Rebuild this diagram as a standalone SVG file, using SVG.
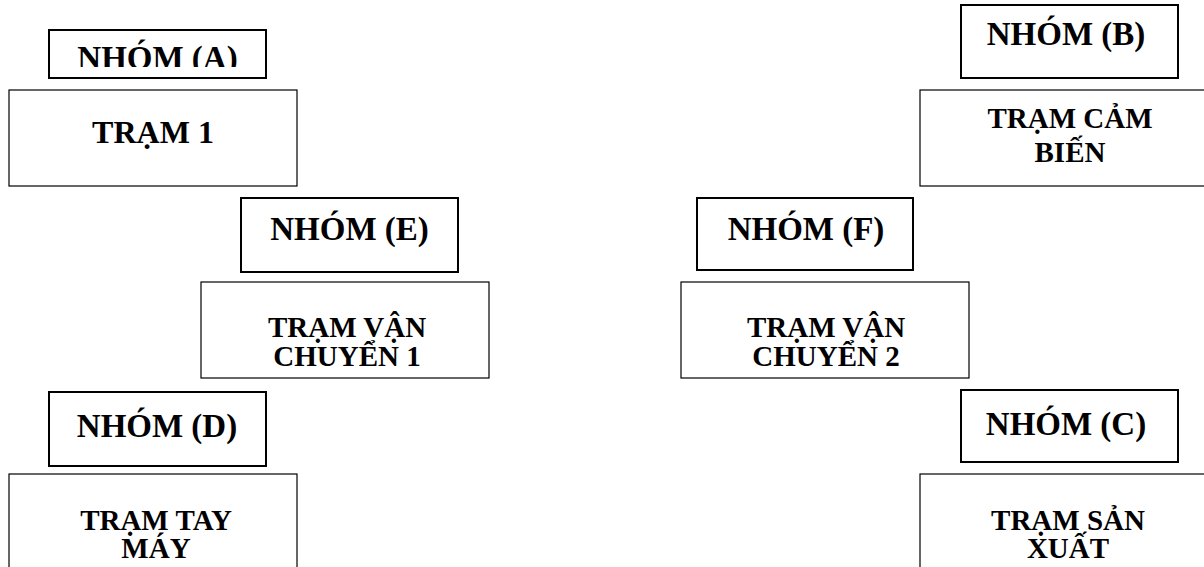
<svg xmlns="http://www.w3.org/2000/svg" width="1204" height="567" viewBox="0 0 1204 567">
  <style>
    .group rect { fill: #fff; stroke: #000; stroke-width: 2; }
    .station rect { fill: #fff; stroke: #000; stroke-width: 1.2; }
    text { font-family: "Liberation Serif", "Times New Roman", serif; font-weight: bold; fill: #000; text-anchor: middle; }
    .g { font-size: 33px; }
    .s { font-size: 29px; }
    .s1 { font-size: 32px; }
  </style>
  <defs>
    <clipPath id="clipA">
      <rect x="49" y="30" width="218" height="37"/>
    </clipPath>
  </defs>

  <rect width="1204" height="567" fill="#fff"/>

  <!-- left column -->
  <g id="nhom-a" class="group">
    <rect x="49" y="30" width="217" height="48"/>
    <text class="g" x="157.5" y="69" clip-path="url(#clipA)">NHÓM (A)</text>
  </g>
  <g id="tram-1" class="station">
    <rect x="9" y="90" width="288" height="96"/>
    <text class="s1" x="153" y="143">TRẠM 1</text>
  </g>

  <g id="nhom-e" class="group">
    <rect x="241" y="198" width="217" height="74"/>
    <text class="g" x="349.5" y="240">NHÓM (E)</text>
  </g>
  <g id="tram-van-chuyen-1" class="station">
    <rect x="201" y="282" width="288" height="96"/>
    <text class="s" x="347" y="337">TRẠM VẬN</text>
    <text class="s" x="347" y="366">CHUYỂN 1</text>
  </g>

  <g id="nhom-d" class="group">
    <rect x="49" y="392" width="217" height="74"/>
    <text class="g" x="157" y="437">NHÓM (D)</text>
  </g>
  <g id="tram-tay-may" class="station">
    <rect x="9" y="474" width="288" height="110"/>
    <text class="s" x="156" y="530">TRẠM TAY</text>
    <text class="s" x="156" y="558">MÁY</text>
  </g>

  <!-- right column -->
  <g id="nhom-b" class="group">
    <rect x="961" y="5" width="217" height="73"/>
    <text class="g" x="1066" y="45">NHÓM (B)</text>
  </g>
  <g id="tram-cam-bien" class="station">
    <rect x="920" y="90" width="300" height="96"/>
    <text class="s" x="1070" y="128">TRẠM CẢM</text>
    <text class="s" x="1070" y="162">BIẾN</text>
  </g>

  <g id="nhom-f" class="group">
    <rect x="697" y="198" width="216" height="72"/>
    <text class="g" x="806" y="240">NHÓM (F)</text>
  </g>
  <g id="tram-van-chuyen-2" class="station">
    <rect x="681" y="282" width="288" height="96"/>
    <text class="s" x="826" y="337">TRẠM VẬN</text>
    <text class="s" x="826" y="366">CHUYỂN 2</text>
  </g>

  <g id="nhom-c" class="group">
    <rect x="961" y="390" width="217" height="72"/>
    <text class="g" x="1066" y="435">NHÓM (C)</text>
  </g>
  <g id="tram-san-xuat" class="station">
    <rect x="920" y="474" width="300" height="110"/>
    <text class="s" x="1068" y="530">TRẠM SẢN</text>
    <text class="s" x="1068" y="558">XUẤT</text>
  </g>

  <!-- no connectors between the stations -->
  <g id="connectors"/>
</svg>
